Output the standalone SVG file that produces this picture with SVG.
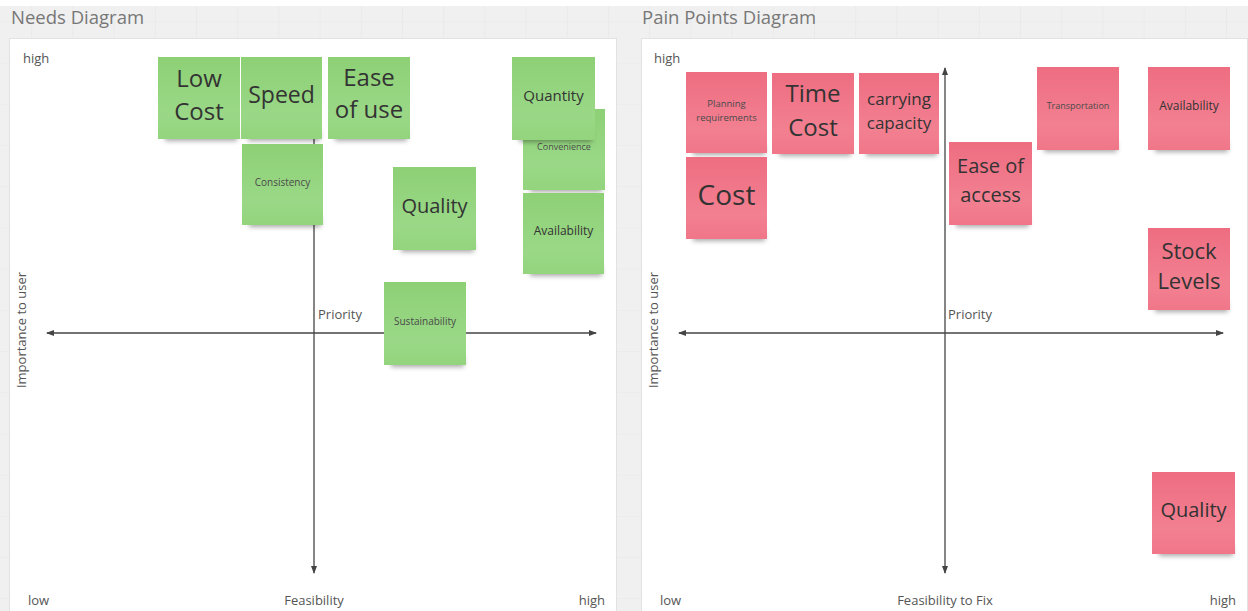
<svg xmlns="http://www.w3.org/2000/svg" width="1248" height="611" viewBox="0 0 1248 611">
  <defs>
    <pattern id="grid" x="-10" y="21.5" width="41.2" height="41.2" patternUnits="userSpaceOnUse">
      <rect width="41.2" height="41.2" fill="#f0f0f0"/>
      <path d="M0 0H41.2M0 0V41.2" stroke="#e6e6e6" stroke-width="1" fill="none"/>
    </pattern>
    <linearGradient id="green" x1="0" y1="0" x2="0" y2="1">
      <stop offset="0" stop-color="#8dd075"/>
      <stop offset="0.7" stop-color="#9ad887"/>
      <stop offset="1" stop-color="#93d47d"/>
    </linearGradient>
    <linearGradient id="pink" x1="0" y1="0" x2="0" y2="1">
      <stop offset="0" stop-color="#ee6d81"/>
      <stop offset="0.7" stop-color="#f28091"/>
      <stop offset="1" stop-color="#f07688"/>
    </linearGradient>
    <filter id="soft" x="-20%" y="-100%" width="140%" height="300%">
      <feGaussianBlur stdDeviation="2.5"/>
    </filter>
    <marker id="tip" viewBox="0 0 8 8" refX="7" refY="4" markerWidth="8" markerHeight="8" markerUnits="userSpaceOnUse" orient="auto-start-reverse">
      <path d="M0 1L8 4L0 7Z" fill="#444"/>
    </marker>
  </defs>
  <style>
    .frame { fill: #ffffff; stroke: #e2e2e2; stroke-width: 1; }
    .title { font-family: "Open Sans", "Liberation Sans", sans-serif; font-size: 18.5px; fill: #777777; }
    .lbl { font-family: "Open Sans", "Liberation Sans", sans-serif; font-size: 13px; fill: #555555; }
    .axis { stroke: #444444; stroke-width: 1.3; fill: none; }
    .g { fill: url(#green); }
    .p { fill: url(#pink); }
    .sh { fill: #000000; opacity: 0.34; filter: url(#soft); }
    .t { font-family: "Open Sans", "Liberation Sans", sans-serif; fill: #333333; text-anchor: middle; }
    .s { fill: #4a4a4a; }
  </style>

  <!-- board background -->
  <rect width="1248" height="611" fill="#ffffff"/>
  <rect x="0" y="6" width="1248" height="605" fill="url(#grid)"/>

  <!-- frames -->
  <g id="needs-frame">
    <rect class="frame" x="9.5" y="38.5" width="607" height="590"/>
    <text class="title" x="11" y="24">Needs Diagram</text>
  </g>
  <g id="pain-frame">
    <rect class="frame" x="641.5" y="38.5" width="606" height="590"/>
    <text class="title" x="642" y="24">Pain Points Diagram</text>
  </g>

  <!-- axes -->
  <g id="connectors">
    <line class="axis" x1="47" y1="333" x2="596" y2="333" marker-start="url(#tip)" marker-end="url(#tip)"/>
    <line class="axis" x1="314" y1="68" x2="314" y2="573" marker-end="url(#tip)"/>
    <line class="axis" x1="679" y1="333" x2="1223" y2="333" marker-start="url(#tip)" marker-end="url(#tip)"/>
    <line class="axis" x1="945" y1="68" x2="945" y2="573" marker-start="url(#tip)" marker-end="url(#tip)"/>
  </g>

  <!-- axis labels -->
  <g id="needs-labels">
    <text class="lbl" x="23" y="63">high</text>
    <text class="lbl" x="0" y="0" text-anchor="middle" transform="translate(26 330) rotate(-90)">Importance to user</text>
    <text class="lbl" x="318" y="319">Priority</text>
    <text class="lbl" x="28" y="605">low</text>
    <text class="lbl" x="314" y="605" text-anchor="middle">Feasibility</text>
    <text class="lbl" x="605" y="605" text-anchor="end">high</text>
  </g>
  <g id="pain-labels">
    <text class="lbl" x="654" y="63">high</text>
    <text class="lbl" x="0" y="0" text-anchor="middle" transform="translate(658 330) rotate(-90)">Importance to user</text>
    <text class="lbl" x="948" y="319">Priority</text>
    <text class="lbl" x="660" y="605">low</text>
    <text class="lbl" x="945" y="605" text-anchor="middle">Feasibility to Fix</text>
    <text class="lbl" x="1236" y="605" text-anchor="end">high</text>
  </g>

  <!-- needs notes -->
  <g id="n-convenience">
    <rect class="sh" x="530" y="182" width="72" height="10"/>
    <rect class="g" x="523" y="109" width="82" height="81"/>
    <text class="t s" x="564" y="150" font-size="9">Convenience</text>
  </g>
  <g id="n-lowcost">
    <rect class="sh" x="165" y="131" width="72" height="10"/>
    <rect class="g" x="158" y="57" width="82" height="82"/>
    <text class="t" x="199" y="87" font-size="24">Low</text>
    <text class="t" x="199" y="120" font-size="24">Cost</text>
  </g>
  <g id="n-speed">
    <rect class="sh" x="248" y="131" width="72" height="10"/>
    <rect class="g" x="241" y="57" width="81" height="82"/>
    <text class="t" x="281.5" y="103" font-size="23">Speed</text>
  </g>
  <g id="n-easeofuse">
    <rect class="sh" x="335" y="131" width="72" height="10"/>
    <rect class="g" x="328" y="57" width="82" height="82"/>
    <text class="t" x="369" y="86" font-size="24">Ease</text>
    <text class="t" x="369" y="118" font-size="24">of use</text>
  </g>
  <g id="n-consistency">
    <rect class="sh" x="249" y="217" width="72" height="10"/>
    <rect class="g" x="242" y="144" width="81" height="81"/>
    <text class="t s" x="282.5" y="186" font-size="10">Consistency</text>
  </g>
  <g id="n-quality">
    <rect class="sh" x="401" y="242" width="73" height="10"/>
    <rect class="g" x="393" y="167" width="83" height="83"/>
    <text class="t" x="434.5" y="213" font-size="20">Quality</text>
  </g>
  <g id="n-quantity">
    <rect class="sh" x="519" y="132" width="73" height="10"/>
    <rect class="g" x="512" y="57" width="83" height="83"/>
    <text class="t" x="553.5" y="101" font-size="15">Quantity</text>
  </g>
  <g id="n-availability">
    <rect class="sh" x="530" y="266" width="72" height="10"/>
    <rect class="g" x="523" y="193" width="81" height="81"/>
    <text class="t" x="563.5" y="235" font-size="12">Availability</text>
  </g>
  <g id="n-sustainability">
    <rect class="sh" x="391" y="357" width="73" height="10"/>
    <rect class="g" x="384" y="282" width="82" height="83"/>
    <text class="t s" x="425" y="325" font-size="10">Sustainability</text>
  </g>

  <!-- pain point notes -->
  <g id="p-planning">
    <rect class="sh" x="693" y="145" width="72" height="10"/>
    <rect class="p" x="686" y="72" width="81" height="81"/>
    <text class="t s" x="726.5" y="107" font-size="9.5">Planning</text>
    <text class="t s" x="726.5" y="121" font-size="9.5">requirements</text>
  </g>
  <g id="p-timecost">
    <rect class="sh" x="779" y="146" width="72" height="10"/>
    <rect class="p" x="772" y="73" width="82" height="81"/>
    <text class="t" x="813" y="102" font-size="24">Time</text>
    <text class="t" x="813" y="136" font-size="24">Cost</text>
  </g>
  <g id="p-carrying">
    <rect class="sh" x="866" y="146" width="71" height="10"/>
    <rect class="p" x="859" y="73" width="80" height="81"/>
    <text class="t" x="899" y="105" font-size="17">carrying</text>
    <text class="t" x="899" y="129" font-size="17">capacity</text>
  </g>
  <g id="p-cost">
    <rect class="sh" x="693" y="231" width="72" height="10"/>
    <rect class="p" x="686" y="157" width="81" height="82"/>
    <text class="t" x="726.5" y="205" font-size="28">Cost</text>
  </g>
  <g id="p-easeofaccess">
    <rect class="sh" x="956" y="217" width="73" height="10"/>
    <rect class="p" x="949" y="142" width="83" height="83"/>
    <text class="t" x="990.5" y="173" font-size="20">Ease of</text>
    <text class="t" x="990.5" y="202" font-size="20">access</text>
  </g>
  <g id="p-transportation">
    <rect class="sh" x="1044" y="142" width="73" height="10"/>
    <rect class="p" x="1037" y="67" width="82" height="83"/>
    <text class="t s" x="1078" y="109" font-size="9">Transportation</text>
  </g>
  <g id="p-availability">
    <rect class="sh" x="1155" y="142" width="73" height="10"/>
    <rect class="p" x="1148" y="67" width="82" height="83"/>
    <text class="t" x="1189" y="110" font-size="12">Availability</text>
  </g>
  <g id="p-stock">
    <rect class="sh" x="1155" y="302" width="73" height="10"/>
    <rect class="p" x="1148" y="228" width="82" height="82"/>
    <text class="t" x="1189" y="259" font-size="22">Stock</text>
    <text class="t" x="1189" y="289" font-size="22">Levels</text>
  </g>
  <g id="p-quality">
    <rect class="sh" x="1159" y="546" width="74" height="10"/>
    <rect class="p" x="1152" y="472" width="83" height="82"/>
    <text class="t" x="1193.5" y="517" font-size="20">Quality</text>
  </g>
</svg>
